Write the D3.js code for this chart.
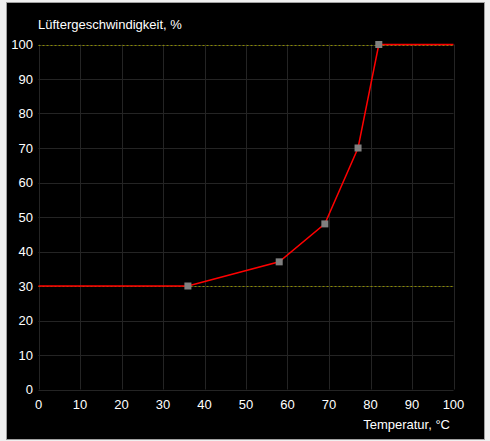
<!DOCTYPE html>
<html><head><meta charset="utf-8">
<script src="https://cdn.jsdelivr.net/npm/d3@7"></script>
<style>
html,body{margin:0;padding:0;background:#f0f0f0;}
svg{display:block;}
</style></head>
<body>
<svg id="chart" width="490" height="441"></svg>
<script>
const temps = [36, 58, 69, 77, 82];
const speeds = [30, 37, 48, 70, 100];
const xTicks = [0,10,20,30,40,50,60,70,80,90,100];
const yTicks = [0,10,20,30,40,50,60,70,80,90,100];
const minSpeed = 30, maxSpeed = 100;
const xDomain = [0, 100], yDomain = [0, 100];
const titleY = "Lüftergeschwindigkeit, %";
const titleX = "Temperatur, °C";

const svg = d3.select("#chart");
const font = "'Liberation Sans', Arial, sans-serif";
// frame
svg.append("rect").attr("x",6.5).attr("y",2.5).attr("width",478).attr("height",437)
  .attr("fill","#000").attr("stroke","#a0a0a0").attr("stroke-width",1);

const x = d3.scaleLinear().domain(xDomain).range([38.5, 453.5]);
const y = d3.scaleLinear().domain(yDomain).range([389.5, 44.5]);

const grid = svg.append("g");
grid.selectAll("line.v").data(xTicks).join("line")
  .attr("x1",d=>Math.round(x(d))+0.5).attr("x2",d=>Math.round(x(d))+0.5)
  .attr("y1",y(100)).attr("y2",y(0)).attr("stroke","#242424").attr("stroke-width",1);
grid.selectAll("line.h").data(yTicks).join("line")
  .attr("y1",d=>Math.round(y(d))+0.5).attr("y2",d=>Math.round(y(d))+0.5)
  .attr("x1",x(0)).attr("x2",x(100)).attr("stroke","#242424").attr("stroke-width",1);

// dashed limit lines
[minSpeed, maxSpeed].forEach(v=>{
  svg.append("line").attr("x1",x(0)).attr("x2",x(100))
    .attr("y1",Math.round(y(v))+0.5).attr("y2",Math.round(y(v))+0.5)
    .attr("stroke","#8a8a00").attr("stroke-width",1).attr("stroke-dasharray","2,2");
});

// tick labels
svg.append("g").selectAll("text").data(yTicks).join("text")
  .attr("x",33).attr("y",d=>y(d)+4.5).attr("text-anchor","end")
  .attr("fill","#fff").attr("font-family",font).attr("font-size",13).text(d=>d);
svg.append("g").selectAll("text").data(xTicks).join("text")
  .attr("x",d=>x(d)).attr("y",409).attr("text-anchor","middle")
  .attr("fill","#fff").attr("font-family",font).attr("font-size",13).text(d=>d);

svg.append("text").attr("x",38).attr("y",29).attr("fill","#fff")
  .attr("font-family",font).attr("font-size",13).text(titleY);
svg.append("text").attr("x",450).attr("y",429).attr("text-anchor","end").attr("fill","#fff")
  .attr("font-family",font).attr("font-size",13).text(titleX);

// curve
const pts = temps.map((t,i)=>[t, speeds[i]]);
const full = [[xDomain[0], speeds[0]], ...pts, [xDomain[1], speeds[speeds.length-1]]];
const line = d3.line().x(d=>x(d[0])).y(d=>y(d[1]));
svg.append("path").datum(full).attr("d",line).attr("fill","none")
  .attr("stroke","#ff0000").attr("stroke-width",1.5);

svg.append("g").selectAll("rect").data(pts).join("rect")
  .attr("x",d=>x(d[0])-3.5).attr("y",d=>y(d[1])-3.5).attr("width",7).attr("height",7)
  .attr("fill","#808080");
</script>
</body></html>
